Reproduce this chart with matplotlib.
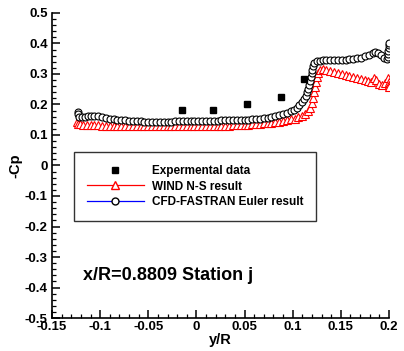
import matplotlib
matplotlib.use("Agg")
import matplotlib.pyplot as plt
from matplotlib.lines import Line2D
from matplotlib.ticker import MultipleLocator

plt.rcParams['font.family'] = ['Liberation Sans', 'DejaVu Sans']
plt.rcParams['font.weight'] = 'bold'

# experimental -Cp at station j
exp_y = [-0.015, 0.017, 0.053, 0.088, 0.112]
exp_cp = [0.182, 0.182, 0.202, 0.225, 0.284]

# WIND N-S
wind_y = [-0.124, -0.123, -0.121, -0.118, -0.114, -0.110, -0.106, -0.102, -0.098,
          -0.094, -0.090, -0.086, -0.082, -0.078, -0.074, -0.070, -0.066, -0.062,
          -0.058, -0.054, -0.050, -0.046, -0.042, -0.038, -0.034, -0.030, -0.026,
          -0.022, -0.018, -0.014, -0.010, -0.006, -0.002, 0.002, 0.006, 0.010,
          0.014, 0.018, 0.022, 0.026, 0.030, 0.034, 0.038, 0.042, 0.046, 0.050,
          0.054, 0.058, 0.062, 0.066, 0.070, 0.074, 0.078, 0.082, 0.086, 0.090,
          0.094, 0.098, 0.102, 0.106, 0.110, 0.113, 0.116, 0.118, 0.120, 0.121,
          0.122, 0.123, 0.124, 0.125, 0.126, 0.128, 0.131, 0.135, 0.139, 0.143,
          0.147, 0.151, 0.155, 0.159, 0.163, 0.167, 0.171, 0.175, 0.178, 0.181,
          0.184, 0.187, 0.190, 0.193, 0.196, 0.199, 0.200, 0.200, 0.200]
wind_cp = [0.142, 0.137, 0.135, 0.134, 0.133, 0.133, 0.132, 0.132, 0.131,
           0.131, 0.131, 0.130, 0.130, 0.130, 0.130, 0.130, 0.129, 0.129,
           0.129, 0.129, 0.129, 0.129, 0.129, 0.129, 0.129, 0.129, 0.129,
           0.129, 0.129, 0.129, 0.129, 0.129, 0.129, 0.129, 0.130, 0.130,
           0.130, 0.130, 0.130, 0.131, 0.131, 0.131, 0.132, 0.132, 0.133, 0.133,
           0.134, 0.135, 0.136, 0.137, 0.138, 0.139, 0.140, 0.142, 0.144, 0.146,
           0.148, 0.151, 0.154, 0.158, 0.163, 0.170, 0.178, 0.190, 0.205, 0.222,
           0.240, 0.258, 0.275, 0.291, 0.304, 0.313, 0.315, 0.312, 0.309, 0.306,
           0.303, 0.300, 0.297, 0.294, 0.290, 0.287, 0.283, 0.279, 0.276, 0.275,
           0.287, 0.280, 0.268, 0.265, 0.270, 0.286, 0.274, 0.264, 0.256]

# CFD-FASTRAN Euler
euler_y = [-0.123, -0.123, -0.122, -0.119, -0.116, -0.113, -0.110, -0.106, -0.102,
           -0.098, -0.094, -0.090, -0.086, -0.082, -0.078, -0.074, -0.070, -0.066,
           -0.062, -0.058, -0.054, -0.050, -0.046, -0.042, -0.038, -0.034, -0.030,
           -0.026, -0.022, -0.018, -0.014, -0.010, -0.006, -0.002, 0.002, 0.006,
           0.010, 0.014, 0.018, 0.022, 0.026, 0.030, 0.034, 0.038, 0.042, 0.046,
           0.050, 0.054, 0.058, 0.062, 0.066, 0.070, 0.074, 0.078, 0.082, 0.086,
           0.090, 0.094, 0.098, 0.101, 0.104, 0.107, 0.110, 0.112, 0.114, 0.115,
           0.116, 0.117, 0.118, 0.119, 0.120, 0.120, 0.121, 0.122, 0.125, 0.128,
           0.131, 0.135, 0.139, 0.143, 0.147, 0.151, 0.155, 0.159, 0.163, 0.167,
           0.171, 0.175, 0.179, 0.183, 0.186, 0.189, 0.192, 0.195, 0.198, 0.199,
           0.199, 0.199, 0.200, 0.200, 0.200]
euler_cp = [0.176, 0.168, 0.160, 0.158, 0.160, 0.162, 0.163, 0.163, 0.161,
            0.158, 0.155, 0.153, 0.151, 0.150, 0.149, 0.148, 0.147, 0.146,
            0.145, 0.145, 0.144, 0.144, 0.144, 0.144, 0.144, 0.144, 0.144,
            0.144, 0.145, 0.145, 0.145, 0.145, 0.145, 0.145, 0.146, 0.146,
            0.146, 0.147, 0.147, 0.147, 0.148, 0.148, 0.148, 0.149, 0.149, 0.149,
            0.150, 0.150, 0.151, 0.152, 0.154, 0.155, 0.157, 0.159, 0.161, 0.164,
            0.168, 0.173, 0.178, 0.183, 0.189, 0.197, 0.207, 0.217, 0.228, 0.240,
            0.252, 0.264, 0.276, 0.289, 0.302, 0.314, 0.326, 0.336, 0.341, 0.344,
            0.345, 0.345, 0.345, 0.345, 0.346, 0.346, 0.347, 0.348, 0.349, 0.351,
            0.354, 0.358, 0.363, 0.368, 0.372, 0.370, 0.362, 0.352, 0.348, 0.355,
            0.365, 0.375, 0.385, 0.395, 0.402]

x_ticks = [-0.15, -0.1, -0.05, 0, 0.05, 0.1, 0.15, 0.2]
x_ticklabels = ['-0.15', '-0.1', '-0.05', '0', '0.05', '0.1', '0.15', '0.2']
y_ticks = [-0.5, -0.4, -0.3, -0.2, -0.1, 0, 0.1, 0.2, 0.3, 0.4, 0.5]
y_ticklabels = ['-0.5', '-0.4', '-0.3', '-0.2', '-0.1', '0', '0.1', '0.2', '0.3', '0.4', '0.5']

fig = plt.figure(figsize=(4.04, 3.51), dpi=100)
ax = fig.add_axes([0.1287, 0.094, 0.834, 0.869])

ax.plot(wind_y, wind_cp, ls='none', marker='^', ms=6, mfc='white', mec='red', mew=0.8)
ax.plot(euler_y, euler_cp, ls='none', marker='o', ms=5, mfc='white', mec='black', mew=0.8)
ax.plot(exp_y, exp_cp, ls='none', marker='s', ms=5, mfc='black', mec='black')

ax.set_xlim(-0.15, 0.2)
ax.set_ylim(-0.5, 0.5)
ax.set_xticks(x_ticks)
ax.set_xticklabels(x_ticklabels)
ax.set_yticks(y_ticks)
ax.set_yticklabels(y_ticklabels)
ax.xaxis.set_minor_locator(MultipleLocator(0.01))
ax.yaxis.set_minor_locator(MultipleLocator(0.02))

for s in ['top', 'right']:
    ax.spines[s].set_visible(False)
for s in ['left', 'bottom']:
    ax.spines[s].set_linewidth(1.2)

ax.tick_params(which='major', direction='in', length=6, width=1.1, labelsize=9.5, pad=3)
ax.tick_params(which='minor', direction='in', length=3, width=0.9)
ax.tick_params(axis='x', pad=2)

ax.set_xlabel('y/R', fontsize=10.5, fontweight='bold', labelpad=0)
ax.set_ylabel('-Cp', fontsize=10.5, fontweight='bold', labelpad=2)

ax.text(-0.118, -0.362, 'x/R=0.8809 Station j', fontsize=13, fontweight='bold', va='center')

handles = [
    Line2D([], [], ls='none', marker='s', ms=5, mfc='black', mec='black'),
    Line2D([], [], color='red', lw=0.9, marker='^', ms=6, mfc='white', mec='red'),
    Line2D([], [], color='blue', lw=0.9, marker='o', ms=5, mfc='white', mec='black'),
]
labels = ['Expermental data', 'WIND N-S result', 'CFD-FASTRAN Euler result']
leg = ax.legend(handles, labels, loc='upper left', bbox_to_anchor=(0.065, 0.544),
                prop={'size': 8.5, 'weight': 'bold'}, handlelength=4.8,
                handletextpad=0.7, labelspacing=0.3, borderpad=1.1,
                borderaxespad=0, fancybox=False, frameon=True)
leg.get_frame().set_edgecolor('black')
leg.get_frame().set_linewidth(1.0)

fig.savefig('out.png', dpi=100)
